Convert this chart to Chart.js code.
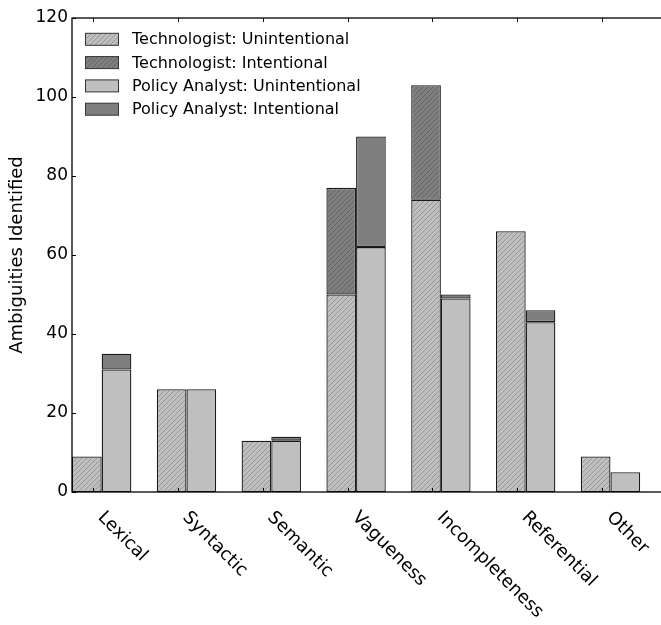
<!DOCTYPE html>
<html><head><meta charset="utf-8">
<script src="https://cdn.jsdelivr.net/npm/chart.js@4.4.1/dist/chart.umd.min.js"></script>
<style>
html,body{margin:0;padding:0;overflow:hidden;background:#fff;width:661px;height:625px}
#wrap{position:absolute;left:0;top:0;width:680px;height:625px}
</style></head>
<body><div id="wrap"><canvas id="c" width="680" height="625"></canvas></div>
<script>
const categories = ['Lexical','Syntactic','Semantic','Vagueness','Incompleteness','Referential','Other'];
const techUnintentional   = [9, 26, 13, 50, 74, 66, 9];
const techIntentional     = [0, 0, 0, 27, 29, 0, 0];
const policyUnintentional = [31, 26, 13, 62, 49, 43, 5];
const policyIntentional   = [4, 0, 1, 28, 1, 3, 0];
const yTicks = [0, 20, 40, 60, 80, 100, 120];
const seriesLabels = ['Technologist: Unintentional','Technologist: Intentional','Policy Analyst: Unintentional','Policy Analyst: Intentional'];

const FONT = 'DejaVu Sans';
const LIGHT = '#bfbfbf', DARK = '#7f7f7f';

function hatch(bg){
  const s = 5;
  const c = document.createElement('canvas'); c.width = s; c.height = s;
  const g = c.getContext('2d');
  g.fillStyle = bg; g.fillRect(0,0,s,s);
  g.strokeStyle = 'rgba(0,0,0,0.22)'; g.lineWidth = 1;
  g.beginPath();
  g.moveTo(0,s); g.lineTo(s,0);
  g.moveTo(-1,1); g.lineTo(1,-1);
  g.moveTo(s-1,s+1); g.lineTo(s+1,s-1);
  g.stroke();
  return g.createPattern(c,'repeat');
}

const GROUP = 0.7; // fraction of category occupied by the pair of bars
const toXY = arr => arr.map((v,i)=>({x: i + GROUP/2, y: v}));

const fills = [hatch(LIGHT), hatch(DARK), LIGHT, DARK];
const datasets = [
  {label: seriesLabels[0], data: toXY(techUnintentional), stack:'tech', backgroundColor: fills[0]},
  {label: seriesLabels[1], data: toXY(techIntentional), stack:'tech', backgroundColor: fills[1]},
  {label: seriesLabels[2], data: toXY(policyUnintentional), stack:'policy', backgroundColor: fills[2]},
  {label: seriesLabels[3], data: toXY(policyIntentional), stack:'policy', backgroundColor: fills[3]},
].map(d=>Object.assign(d,{borderColor:'#1a1a1a', borderWidth:1.3, borderSkipped:false, categoryPercentage: GROUP, barPercentage: 1}));

const decor = {
  id:'decor',
  afterDatasetsDraw(chart){
    const ctx = chart.ctx, a = chart.chartArea;
    const xs = chart.scales.x, ys = chart.scales.y;
    ctx.save();
    ctx.strokeStyle = '#000'; ctx.lineWidth = 1.3;
    ctx.strokeRect(a.left, a.top, a.right-a.left, a.bottom-a.top);
    ctx.lineWidth = 1;
    ctx.beginPath();
    yTicks.forEach(v=>{
      const y = Math.round(ys.getPixelForValue(v))+0.5;
      ctx.moveTo(a.left, y); ctx.lineTo(a.left+4, y);
      ctx.moveTo(a.right, y); ctx.lineTo(a.right-4, y);
    });
    categories.forEach((c,i)=>{
      const x = Math.round(xs.getPixelForValue(i + 0.25))+0.5;
      ctx.moveTo(x, a.bottom); ctx.lineTo(x, a.bottom-4);
      ctx.moveTo(x, a.top); ctx.lineTo(x, a.top+4);
    });
    ctx.stroke();
    // x labels, rotated 45deg clockwise
    ctx.fillStyle = '#000';
    ctx.font = '18px "' + FONT + '"';
    ctx.textAlign = 'left'; ctx.textBaseline = 'alphabetic';
    categories.forEach((c,i)=>{
      const x = xs.getPixelForValue(i + 0.25);
      ctx.save();
      ctx.translate(x + 4, a.bottom + 26);
      ctx.rotate(Math.PI/4);
      ctx.fillText(c, 0, 0);
      ctx.restore();
    });
    // legend
    ctx.font = '16px "' + FONT + '"';
    ctx.textBaseline = 'middle';
    chart.data.datasets.forEach((d,k)=>{
      const cy = 39.3 + k*23.3;
      ctx.fillStyle = d.backgroundColor;
      ctx.fillRect(85.5, cy-6, 33, 12);
      ctx.strokeStyle = '#333'; ctx.lineWidth = 1;
      ctx.strokeRect(85.5, cy-6, 33, 12);
      ctx.fillStyle = '#000';
      ctx.fillText(d.label, 132, cy+1);
    });
    ctx.restore();
  }
};

new Chart(document.getElementById('c'), {
  type:'bar',
  data:{datasets},
  options:{
    responsive:false, animation:false, devicePixelRatio: 1,
    layout:{padding:{top:18, right:680-665.6, left:0, bottom:0}},
    plugins:{legend:{display:false}, tooltip:{enabled:false}},
    scales:{
      x:{type:'linear', min:0, max:categories.length, stacked:true, offset:false,
         ticks:{display:false}, grid:{display:false, drawTicks:false, offset:false}, border:{display:false},
         afterFit(s){ s.height = 133; }},
      y:{min:0, max:120, stacked:true,
         afterBuildTicks(s){ s.ticks = yTicks.map(v=>({value:v})); },
         ticks:{color:'#000', font:{family:FONT, size:17}, padding:4},
         grid:{display:false, drawTicks:false}, border:{display:false},
         title:{display:true, text:'Ambiguities Identified', color:'#000', font:{family:FONT, size:18}, padding:{top:7, bottom:0}},
         afterFit(s){ s.width = 72; }}
    }
  },
  plugins:[decor]
});
</script></body></html>
